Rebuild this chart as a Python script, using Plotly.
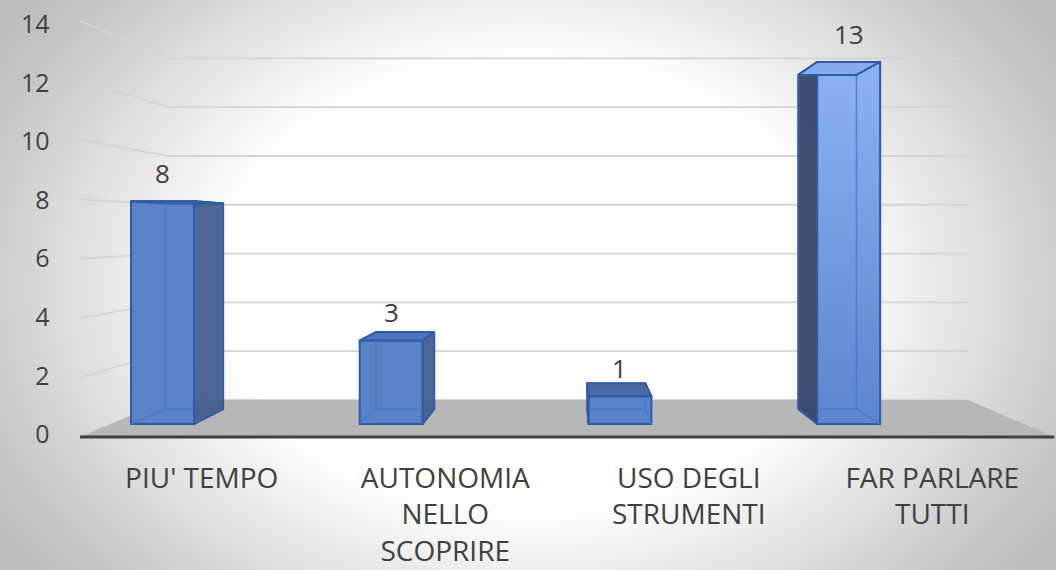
import plotly.graph_objects as go

# ---------------- data ----------------
categories = ["PIU' TEMPO", "AUTONOMIA<br>NELLO<br>SCOPRIRE", "USO DEGLI<br>STRUMENTI", "FAR PARLARE<br>TUTTI"]
values = [8, 3, 1, 13]
y_ticks = [0, 2, 4, 6, 8, 10, 12, 14]

# ---------------- styles ----------------
front_bottom = ["#5a82c7", "#5a82c7", "#5a82c7", "#5b85cd"]
front_top = ["#5a82c7", "#5a82c7", "#5a82c7", "#8db3f3"]
side_colors = ["#445f8f", "#445f8f", "#4a68a6", "#37476b"]
top_colors = ["#5a82c7", "#4d74bd", "#4a68a5", "#86acee"]
OUTLINE = "#2f5aa8"
INNER = "rgba(70,120,210,0.85)"
TEXT = "#404040"
FONT = "Open Sans"

# ---------------- geometry (pixel calibration of the 3D view) ----------------
W, H = 1056, 570
PX0, PXS = 162.5, 228.7      # front plane: px = PX0 + PXS * x
PY0, PYS = 424.0, 27.85      # front plane: py = PY0 - PYS * v
X_RANGE = [(0 - PX0) / PXS, (W - PX0) / PXS]
Y_RANGE = [(PY0 - H) / PYS, PY0 / PYS]
VP = ((573 - PX0) / PXS, (PY0 - 230) / PYS)
K_BAR, K_WALL, K_FRONT = 0.923, 0.876, 1.067
X_LEFT, X_RIGHT = (111 - PX0) / PXS, (1024 - PX0) / PXS
BAR_W = 63 / PXS


def proj(x, v, k):
    return VP[0] + k * (x - VP[0]), VP[1] + k * (v - VP[1])


def px2data(px, py):
    return (px - PX0) / PXS, (PY0 - py) / PYS


fig = go.Figure()

# background radial gradient
bx0, by0 = px2data(528 - 640, 285 - 470)
bx1, by1 = px2data(528 + 640, 285 + 470)
fig.add_trace(go.Scatter(
    x=[bx0, bx1, bx1, bx0, bx0], y=[by0, by0, by1, by1, by0],
    fill="toself", mode="none", hoverinfo="skip",
    fillgradient=dict(type="radial",
                      colorscale=[[0, "#ffffff"], [0.48, "#ffffff"], [0.9, "#c5c5c5"], [1, "#bcbcbc"]]),
))

# gridlines on left and back walls
gx, gy = [], []
for v in y_ticks:
    a = proj(X_LEFT, v, K_FRONT)
    b = proj(X_LEFT, v, K_WALL)
    c = proj(X_RIGHT, v, K_WALL)
    gx += [a[0], b[0], c[0], None]
    gy += [a[1], b[1], c[1], None]
fig.add_trace(go.Scatter(x=gx, y=gy, mode="lines", line=dict(color="#d4d4d4", width=1.8),
                         hoverinfo="skip"))

# floor
f = [proj(X_LEFT, 0, K_FRONT), proj(X_RIGHT, 0, K_FRONT), proj(X_RIGHT, 0, K_WALL), proj(X_LEFT, 0, K_WALL)]
fig.add_trace(go.Scatter(x=[p[0] for p in f] + [f[0][0]], y=[p[1] for p in f] + [f[0][1]],
                         fill="toself", fillcolor="#b7b7b7", mode="none", hoverinfo="skip"))
fig.add_trace(go.Scatter(x=[f[0][0], f[1][0]], y=[f[0][1], f[1][1]], mode="lines",
                         line=dict(color="#404040", width=3), hoverinfo="skip"))

# ---------------- bars (overlay subplot x2/y2) ----------------
xs = list(range(len(values)))
fig.add_trace(go.Bar(
    x=xs, y=values, width=BAR_W, xaxis="x2", yaxis="y2",
    marker=dict(color=front_bottom, line=dict(color=OUTLINE, width=2)),
    hoverinfo="skip",
))

for i, val in enumerate(values):
    xl, xr = i - BAR_W / 2, i + BAR_W / 2
    # gradient overlay on front face where needed
    if front_top[i] != front_bottom[i]:
        fig.add_trace(go.Scatter(
            x=[xl, xr, xr, xl, xl], y=[0, 0, val, val, 0], xaxis="x2", yaxis="y2",
            fill="toself", mode="lines", line=dict(color=OUTLINE, width=2),
            fillgradient=dict(type="vertical", colorscale=[[0, front_bottom[i]], [1, front_top[i]]]),
            hoverinfo="skip"))
    # hidden (back) edges seen through the transparent bar
    b = [proj(xl, 0, K_BAR), proj(xr, 0, K_BAR), proj(xr, val, K_BAR), proj(xl, val, K_BAR)]
    ex = [b[0][0], b[1][0], b[2][0], b[3][0], b[0][0], None]
    ey = [b[0][1], b[1][1], b[2][1], b[3][1], b[0][1], None]
    for (fx, fv), bb in zip([(xl, 0), (xr, 0), (xr, val), (xl, val)], b):
        ex += [fx, bb[0], None]
        ey += [fv, bb[1], None]
    fig.add_trace(go.Scatter(x=ex, y=ey, xaxis="x2", yaxis="y2", mode="lines",
                             line=dict(color=INNER, width=1.5), hoverinfo="skip"))
    # side face
    side = None
    if xr < VP[0]:
        side = xr
    elif xl > VP[0]:
        side = xl
    if side is not None:
        p1, p2 = proj(side, val, K_BAR), proj(side, 0, K_BAR)
        fig.add_trace(go.Scatter(
            x=[side, side, p1[0], p2[0], side], y=[0, val, p1[1], p2[1], 0],
            xaxis="x2", yaxis="y2", fill="toself", fillcolor=side_colors[i],
            mode="lines", line=dict(color=OUTLINE, width=2), opacity=0.95, hoverinfo="skip"))
    # top face
    t1, t2 = proj(xr, val, K_BAR), proj(xl, val, K_BAR)
    fig.add_trace(go.Scatter(
        x=[xl, xr, t1[0], t2[0], xl], y=[val, val, t1[1], t2[1], val],
        xaxis="x2", yaxis="y2", fill="toself", fillcolor=top_colors[i],
        mode="lines", line=dict(color=OUTLINE, width=2), hoverinfo="skip"))

# data labels
for i, val in enumerate(values):
    fig.add_annotation(x=i, y=val, xref="x2", yref="y2", text=str(val), showarrow=False,
                       yshift=28, font=dict(family=FONT, size=26, color=TEXT))

# ---------------- label axes ----------------
LAB_Y0, LAB_YS = 434.5, 29.3
fig.add_trace(go.Scatter(x=[0] * len(y_ticks), y=y_ticks, xaxis="x", yaxis="y3", mode="markers",
                         marker=dict(opacity=0), hoverinfo="skip"))
CAT_X0, CAT_XS = 80.0, 243.5
fig.add_trace(go.Scatter(x=categories, y=[0] * len(categories), xaxis="x3", yaxis="y", mode="markers",
                         marker=dict(opacity=0), hoverinfo="skip"))

hidden = dict(showgrid=False, zeroline=False, showticklabels=False, showline=False, ticks="")
fig.update_layout(
    width=W, height=H, autosize=False,
    margin=dict(l=0, r=0, t=0, b=0),
    paper_bgcolor="#e8e8e8", plot_bgcolor="rgba(0,0,0,0)",
    showlegend=False, hovermode=False,
    font=dict(family=FONT, color=TEXT),
    xaxis=dict(range=X_RANGE, domain=[0, 1], **hidden),
    yaxis=dict(range=Y_RANGE, domain=[0, 1], **hidden),
    xaxis2=dict(range=X_RANGE, overlaying="x", **hidden),
    yaxis2=dict(range=Y_RANGE, overlaying="y", **hidden),
    yaxis3=dict(range=[(LAB_Y0 - H) / LAB_YS, LAB_Y0 / LAB_YS], overlaying="y", anchor="free",
                position=0.047, side="left", tickvals=y_ticks, showgrid=False, zeroline=False,
                showline=False, ticks="", tickfont=dict(family=FONT, size=25, color=TEXT)),
    xaxis3=dict(type="category", range=[-0.5 - CAT_X0 / CAT_XS, -0.5 + (W - CAT_X0) / CAT_XS],
                overlaying="x", anchor="free", position=(H - 459) / H, side="bottom",
                showgrid=False, zeroline=False, showline=False, ticks="",
                tickfont=dict(family=FONT, size=28, color=TEXT)),
)

fig.write_html("out.html", config={"displayModeBar": False},
               post_script="document.body.style.margin='0';document.body.style.overflow='hidden';")
